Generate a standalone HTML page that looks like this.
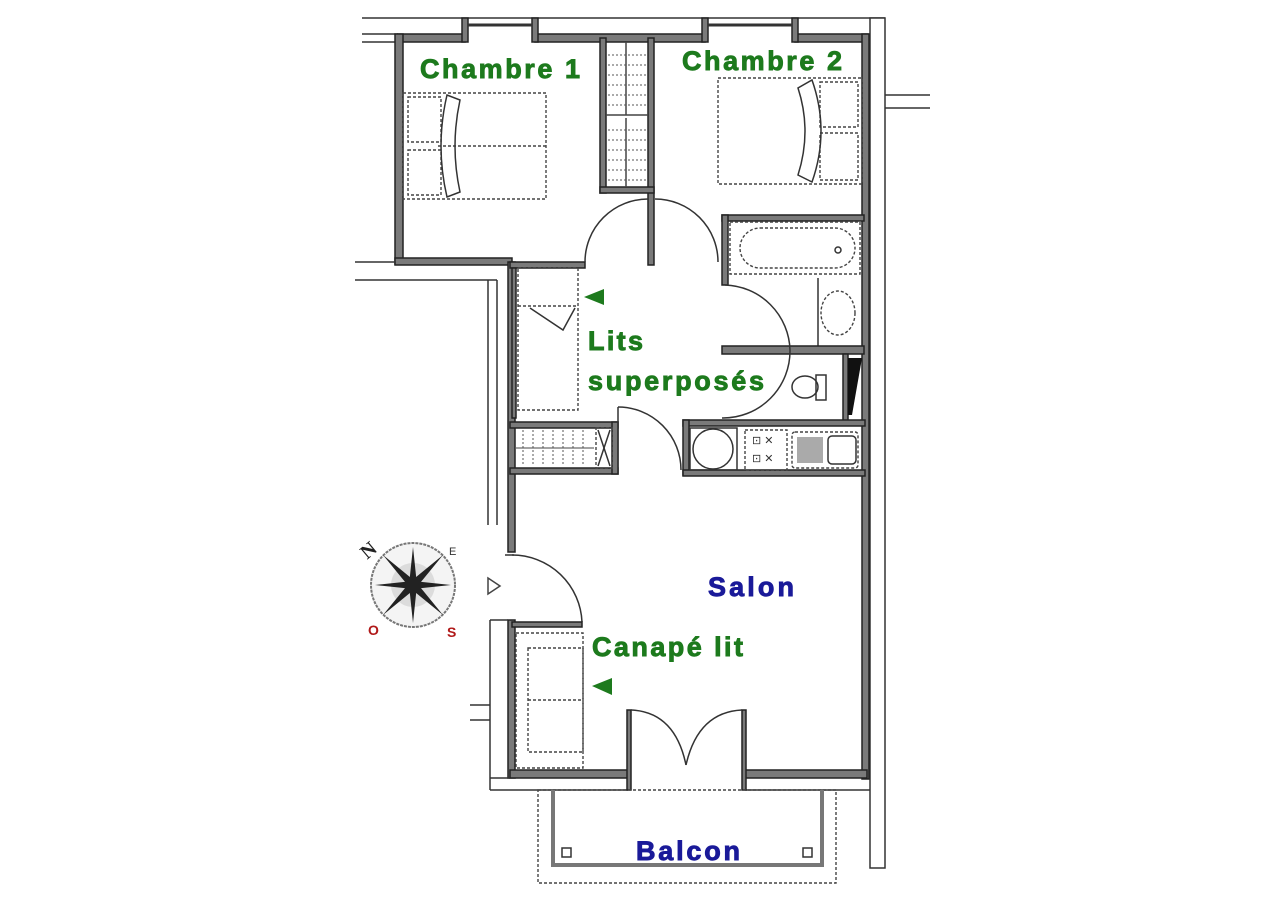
<!DOCTYPE html>
<html><head><meta charset="utf-8"><style>
html,body{margin:0;padding:0;background:#fff;}
svg{display:block}
.w{fill:#7a7a7a;stroke:#222;stroke-width:1.5}
.l{fill:none;stroke:#333;stroke-width:1.5}
.d{fill:none;stroke:#444;stroke-width:1.4;stroke-dasharray:3 2}
.a{fill:none;stroke:#333;stroke-width:1.5}
.g{font-family:"Liberation Sans",Arial,sans-serif;font-weight:bold;font-size:27px;fill:#1d7a1d;stroke:#1d7a1d;stroke-width:0.9}
.b{font-family:"Liberation Sans",Arial,sans-serif;font-weight:bold;font-size:27px;fill:#1a1a99;stroke:#1a1a99;stroke-width:0.9}
</style></head><body>
<svg width="1280" height="900" viewBox="0 0 1280 900" xmlns="http://www.w3.org/2000/svg">
<rect width="1280" height="900" fill="#fff"/>
<line class="l" x1="362" y1="18" x2="885" y2="18"/>
<line class="l" x1="362" y1="34" x2="398" y2="34"/>
<line class="l" x1="362" y1="42" x2="398" y2="42"/>
<rect class="w" x="398" y="34" width="67" height="8"/>
<rect class="w" x="535" y="34" width="170" height="8"/>
<rect class="w" x="795" y="34" width="73" height="8"/>
<rect class="w" x="462" y="18" width="6" height="24"/><rect class="w" x="532" y="18" width="6" height="24"/>
<rect class="w" x="702" y="18" width="6" height="24"/><rect class="w" x="792" y="18" width="6" height="24"/>
<line x1="468" y1="25" x2="532" y2="25" stroke="#333" stroke-width="3"/>
<line x1="708" y1="25" x2="792" y2="25" stroke="#333" stroke-width="3"/>
<rect x="870" y="18" width="15" height="850" fill="#fff" stroke="#333" stroke-width="1.5"/>
<line class="l" x1="885" y1="95" x2="930" y2="95"/>
<line class="l" x1="885" y1="108" x2="930" y2="108"/>
<rect class="w" x="862" y="34" width="7" height="745"/>
<rect class="w" x="395" y="34" width="8" height="230"/>
<rect class="w" x="395" y="258" width="117" height="7"/>
<line class="l" x1="355" y1="262" x2="395" y2="262"/>
<line class="l" x1="355" y1="280" x2="497" y2="280"/>
<line class="l" x1="488" y1="280" x2="488" y2="525"/>
<line class="l" x1="497" y1="280" x2="497" y2="525"/>
<rect class="w" x="508" y="262" width="7" height="290"/>
<rect class="w" x="510" y="262" width="75" height="6"/>
<rect class="w" x="600" y="38" width="6" height="155"/>
<rect class="w" x="648" y="38" width="6" height="227"/>
<rect class="w" x="600" y="187" width="54" height="6"/>
<g stroke="#444" stroke-width="1.5">
<line x1="606" y1="115" x2="648" y2="115"/>
<line x1="626" y1="42" x2="626" y2="115"/><line x1="626" y1="118" x2="626" y2="187"/>
</g>
<g stroke="#555" stroke-width="1" stroke-dasharray="2 2">
<line x1="608" y1="55" x2="646" y2="55"/><line x1="608" y1="65" x2="646" y2="65"/><line x1="608" y1="75" x2="646" y2="75"/><line x1="608" y1="85" x2="646" y2="85"/><line x1="608" y1="95" x2="646" y2="95"/><line x1="608" y1="105" x2="646" y2="105"/>
<line x1="608" y1="130" x2="646" y2="130"/><line x1="608" y1="140" x2="646" y2="140"/><line x1="608" y1="150" x2="646" y2="150"/><line x1="608" y1="160" x2="646" y2="160"/><line x1="608" y1="170" x2="646" y2="170"/><line x1="608" y1="180" x2="646" y2="180"/>
</g>
<rect class="d" x="403" y="93" width="143" height="106"/>
<rect class="d" x="408" y="97" width="33" height="45"/>
<rect class="d" x="408" y="150" width="33" height="45"/>
<line class="d" x1="438" y1="146" x2="546" y2="146"/>
<path class="a" d="M447 95 Q435 146 447 197 L460 192 Q450 146 460 100 Z"/>
<rect class="d" x="718" y="78" width="144" height="106"/>
<rect class="d" x="820" y="82" width="38" height="45"/>
<rect class="d" x="820" y="133" width="38" height="47"/>
<path class="a" d="M812 80 Q830 131 812 182 L798 175 Q812 131 798 88 Z"/>
<rect class="w" x="722" y="215" width="142" height="6"/>
<rect class="w" x="722" y="215" width="6" height="70"/>
<rect class="d" x="730" y="222" width="130" height="52"/>
<rect class="d" x="740" y="228" width="115" height="40" rx="20"/>
<circle cx="838" cy="250" r="3" class="l"/>
<line class="l" x1="818" y1="278" x2="818" y2="348"/>
<ellipse cx="838" cy="313" rx="17" ry="22" class="d"/>
<rect class="w" x="722" y="346" width="142" height="8"/>
<rect class="w" x="843" y="354" width="5" height="68"/>
<path d="M848 358 L862 358 L852 415 L848 415 Z" fill="#111"/>
<ellipse cx="805" cy="387" rx="13" ry="11" class="l"/>
<rect x="816" y="375" width="10" height="25" class="l"/>
<path class="a" d="M585 262 A63 63 0 0 1 648 199"/>
<path class="a" d="M655 199 A63 63 0 0 1 718 262"/>
<path class="a" d="M725 285 A67 67 0 0 1 790 350 A67 67 0 0 1 722 418"/>
<rect class="w" x="512" y="268" width="4" height="150"/>
<rect class="d" x="518" y="268" width="60" height="142"/>
<line class="d" x1="518" y1="306" x2="578" y2="306"/>
<path class="a" d="M530 308 L563 330 L575 308"/>
<rect class="w" x="510" y="422" width="108" height="6"/>
<rect class="w" x="510" y="468" width="108" height="6"/>
<rect class="w" x="612" y="422" width="6" height="52"/>
<rect class="d" x="596" y="428" width="16" height="40"/>
<line class="l" x1="598" y1="430" x2="610" y2="466"/><line class="l" x1="610" y1="430" x2="598" y2="466"/>
<line x1="516" y1="448" x2="594" y2="448" stroke="#444"/>
<g stroke="#555" stroke-width="1" stroke-dasharray="2 2">
<line x1="523" y1="430" x2="523" y2="466"/><line x1="533" y1="430" x2="533" y2="466"/><line x1="543" y1="430" x2="543" y2="466"/><line x1="553" y1="430" x2="553" y2="466"/><line x1="563" y1="430" x2="563" y2="466"/><line x1="573" y1="430" x2="573" y2="466"/><line x1="583" y1="430" x2="583" y2="466"/>
</g>
<path class="a" d="M618 407 A63 63 0 0 1 681 470"/>
<line class="l" x1="618" y1="407" x2="618" y2="472"/>
<rect class="w" x="683" y="420" width="182" height="6"/>
<rect class="w" x="683" y="420" width="6" height="55"/>
<rect class="w" x="683" y="470" width="182" height="6"/>
<rect class="l" x="690" y="428" width="47" height="42"/>
<circle cx="713" cy="449" r="20" class="l"/>
<rect class="d" x="745" y="430" width="42" height="40"/>
<text x="752" y="444" font-size="11" fill="#333" font-family="Liberation Sans,sans-serif">⊡ ✕</text>
<text x="752" y="462" font-size="11" fill="#333" font-family="Liberation Sans,sans-serif">⊡ ✕</text>
<rect class="d" x="792" y="432" width="66" height="36" rx="3"/>
<rect x="797" y="437" width="26" height="26" fill="#aaa"/>
<rect class="l" x="828" y="436" width="28" height="28" rx="4"/>
<rect class="w" x="508" y="620" width="7" height="158"/>
<line class="l" x1="490" y1="620" x2="490" y2="790"/>
<line class="l" x1="490" y1="620" x2="508" y2="620"/>
<path class="a" d="M512 555 A70 70 0 0 1 582 622"/>
<line class="l" x1="505" y1="555" x2="514" y2="555"/>
<rect class="w" x="512" y="622" width="70" height="5"/>
<line class="l" x1="470" y1="705" x2="490" y2="705"/>
<line class="l" x1="470" y1="720" x2="490" y2="720"/>
<polygon points="488,578 500,586 488,594" fill="none" stroke="#444" stroke-width="1.5"/>
<rect class="d" x="516" y="633" width="67" height="135"/>
<rect class="d" x="528" y="648" width="55" height="104"/>
<line class="d" x1="528" y1="700" x2="583" y2="700"/>
<rect class="w" x="510" y="770" width="118" height="8"/>
<rect class="w" x="745" y="770" width="122" height="8"/>
<line class="l" x1="490" y1="790" x2="628" y2="790"/>
<line class="l" x1="745" y1="790" x2="870" y2="790"/>
<line class="l" x1="490" y1="778" x2="510" y2="778"/>
<rect class="w" x="627" y="710" width="4" height="80"/>
<rect class="w" x="742" y="710" width="4" height="80"/>
<path class="a" d="M631 710 Q675 712 686 765"/>
<path class="a" d="M742 710 Q698 712 686 765"/>
<rect class="d" x="538" y="790" width="298" height="93"/>
<path d="M553 790 L553 865 L822 865 L822 790" fill="none" stroke="#777" stroke-width="4"/>
<rect class="l" x="562" y="848" width="9" height="9"/>
<rect class="l" x="803" y="848" width="9" height="9"/>
<g transform="translate(413,585)">
<circle r="42" fill="#f4f4f4" stroke="#777" stroke-width="2" stroke-dasharray="3 1"/>
<circle r="22" fill="#ccc" opacity="0.6"/>
<g fill="#222">
<polygon points="0,-38 4,0 0,38 -4,0"/>
<polygon points="-38,0 0,4 38,0 0,-4"/>
<polygon points="-30,-30 3,-3 30,30 -3,3"/>
<polygon points="30,-30 3,3 -30,30 -3,-3"/>
</g>
<text x="-52" y="-28" font-family="Liberation Serif,serif" font-size="20" font-weight="bold" fill="#222" transform="rotate(-40 -45 -35)">N</text>
<text x="36" y="-30" font-size="11" fill="#333" font-family="Liberation Sans,sans-serif">E</text>
<text x="-45" y="50" font-size="14" font-weight="bold" fill="#b01818" font-family="Liberation Sans,sans-serif">O</text>
<text x="34" y="52" font-size="14" font-weight="bold" fill="#b01818" font-family="Liberation Sans,sans-serif">S</text>
</g>
<text class="g" x="420" y="78" textLength="160" lengthAdjust="spacing">Chambre 1</text>
<text class="g" x="682" y="70" textLength="160" lengthAdjust="spacing">Chambre 2</text>
<polygon points="584,297 604,289 604,305" fill="#1d7a1d"/>
<text class="g" x="588" y="350" textLength="55" lengthAdjust="spacing">Lits</text>
<text class="g" x="588" y="390" textLength="176" lengthAdjust="spacing">superposés</text>
<text class="b" x="708" y="596" textLength="86" lengthAdjust="spacing">Salon</text>
<text class="g" x="592" y="656" textLength="151" lengthAdjust="spacing">Canapé lit</text>
<polygon points="592,686 612,678 612,695" fill="#1d7a1d"/>
<text class="b" x="636" y="860" textLength="104" lengthAdjust="spacing">Balcon</text>
</svg>
</body></html>
